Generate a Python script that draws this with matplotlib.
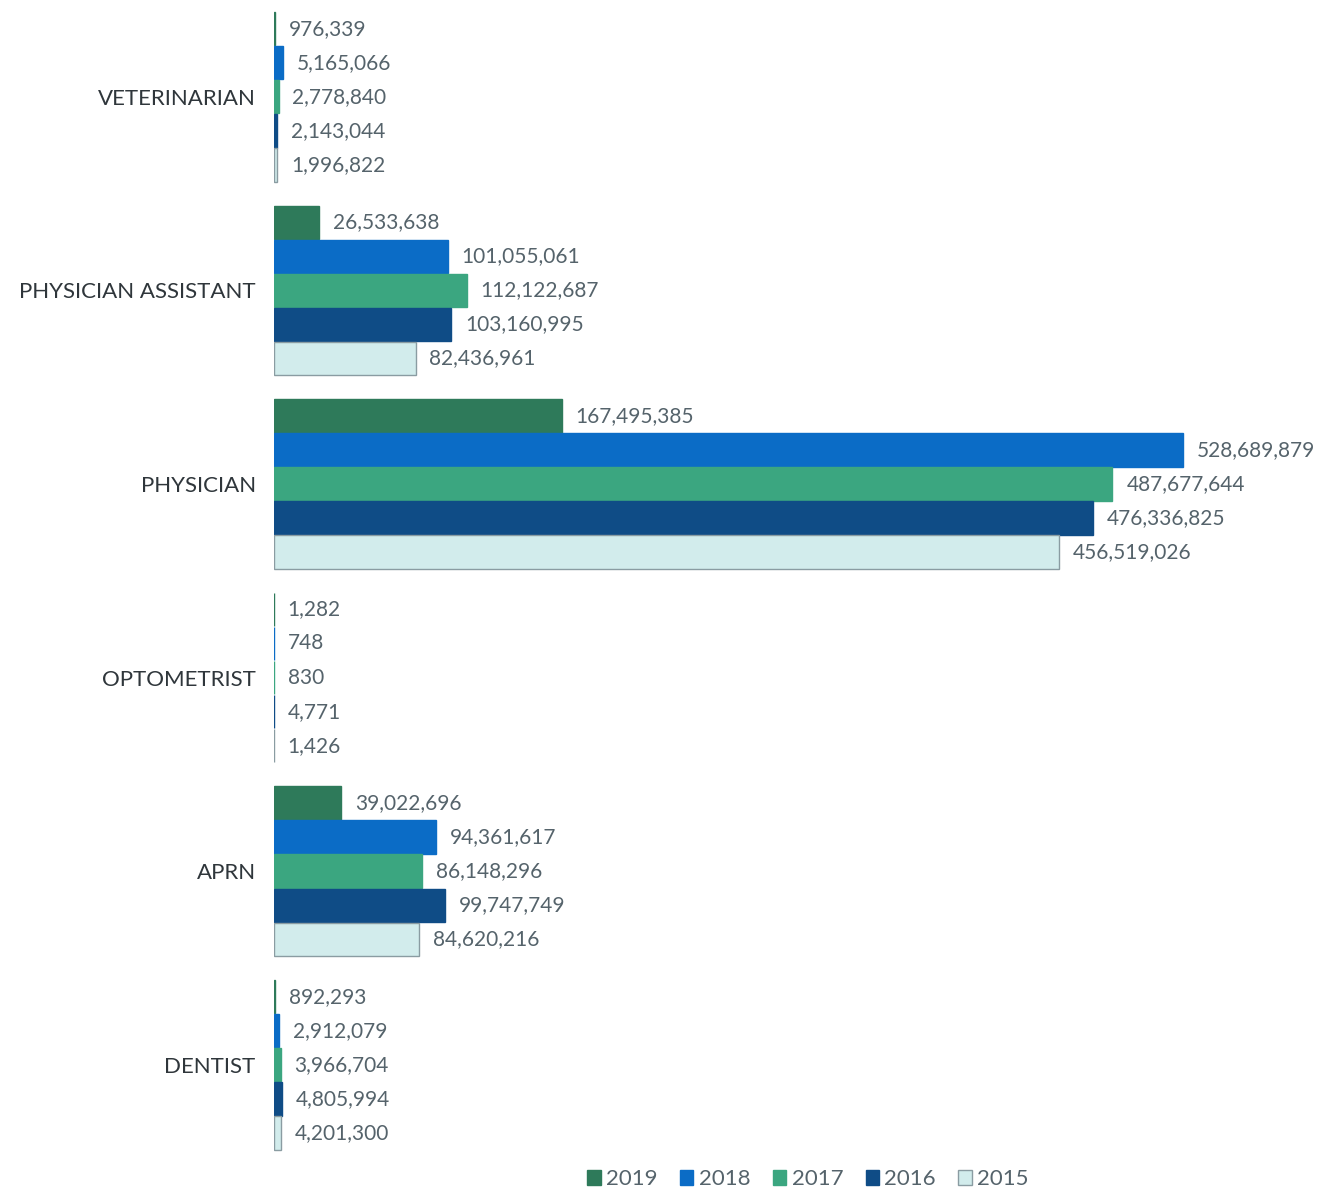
import matplotlib.pyplot as plt
import numpy as np

categories = ['VETERINARIAN', 'PHYSICIAN ASSISTANT', 'PHYSICIAN', 'OPTOMETRIST', 'APRN', 'DENTIST']
years = ['2019', '2018', '2017', '2016', '2015']

v2019 = [976339, 26533638, 167495385, 1282, 39022696, 892293]
v2018 = [5165066, 101055061, 528689879, 748, 94361617, 2912079]
v2017 = [2778840, 112122687, 487677644, 830, 86148296, 3966704]
v2016 = [2143044, 103160995, 476336825, 4771, 99747749, 4805994]
v2015 = [1996822, 82436961, 456519026, 1426, 84620216, 4201300]

series = [v2019, v2018, v2017, v2016, v2015]
colors = ['#2e7a5a', '#0b6cc6', '#3ba680', '#0f4c86', '#d2ecec']
edges = ['#2e7a5a', '#0b6cc6', '#3ba680', '#0f4c86', '#8a9ca2']
txt_col = '#55636b'

fig = plt.figure(figsize=(13.29, 11.95), dpi=100)
ax = fig.add_axes([0.206, 0.028, 0.794, 0.972])

y = np.arange(len(categories))
h = 0.176
for i, (vals, yr) in enumerate(zip(series, years)):
    pos = y - 2 * h + i * h
    ax.barh(pos, vals, height=h * 0.98, color=colors[i], edgecolor=edges[i],
            linewidth=1, label=yr)
    for p, v in zip(pos, vals):
        ax.annotate(f'{v:,}', (v, p), xytext=(10, 0), textcoords='offset points',
                    va='center', ha='left', fontsize=15, color=txt_col, family='Lato')

ax.set_xlim(0, 613.6e6)
ax.set_ylim(5.5, -0.5)
ax.set_yticks(y)
ax.set_yticklabels(categories, fontsize=16, color='#2f363b', family='Lato')
ax.tick_params(axis='y', length=0, pad=13)
ax.set_xticks([])
for s in ax.spines.values():
    s.set_visible(False)

# 범례는 하단 중앙보다 약간 오른쪽
fig.legend(loc='lower center', bbox_to_anchor=(0.608, -0.012), ncol=5, frameon=False,
           handlelength=0.6, handleheight=0.6, handletextpad=0.25,
           columnspacing=1.0, labelcolor=txt_col, prop={'family': 'Lato', 'size': 16})

fig.savefig('out.png', dpi=100)
